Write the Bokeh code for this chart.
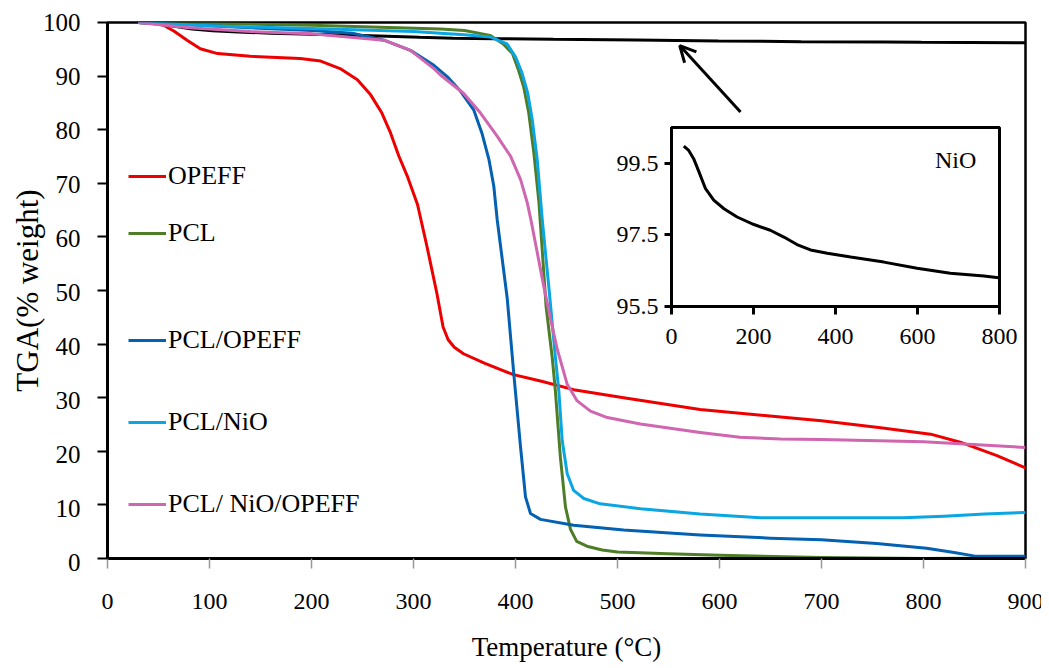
from bokeh.plotting import figure
from bokeh.models import (Range1d, Legend, LegendItem, Arrow, OpenHead, Label,
                          GridBox, FixedTicker)
from bokeh.embed import file_html
from bokeh.resources import INLINE

FONT = "Liberation Serif"

# ---------------- data ----------------
opeff_x = [30, 45, 55, 65, 78, 91, 108, 140, 189, 209, 228, 245, 258, 269, 277.5, 285.6,
           293.8, 304, 313, 323, 329, 334, 340, 349, 370, 398, 424.5, 457, 506, 581, 660,
           700, 758, 807, 836, 872, 900]
opeff_y = [100, 99.9, 99.5, 98.4, 96.7, 95.1, 94.2, 93.7, 93.3, 92.8, 91.4, 89.3, 86.5, 83.1,
           79.4, 75.1, 71.4, 66.0, 58.4, 49.4, 43.2, 40.8, 39.4, 38.2, 36.4, 34.3, 33.1,
           31.5, 30.0, 27.8, 26.4, 25.7, 24.4, 23.2, 21.7, 19.2, 16.9]

pcl_x = [30, 100, 200, 326.5, 350, 375, 388, 397, 403, 408, 413, 418, 423, 430, 436, 439,
         444, 449, 454, 460, 470, 485, 500, 550, 600, 700, 800, 900]
pcl_y = [100, 99.8, 99.5, 98.8, 98.5, 97.6, 96.0, 94.2, 91.1, 88.0, 83.1, 75.7, 66.4, 47.0,
         37.5, 31.5, 18.9, 9.6, 5.4, 3.2, 2.3, 1.6, 1.2, 0.9, 0.6, 0.2, 0.0, 0.1]

pcl_opeff_x = [30, 80, 140, 200, 240, 271, 297, 320, 333, 346, 359, 367, 374, 378.7, 382,
               391.9, 398.4, 405, 409.8, 414.7, 424.5, 457, 506, 581, 650, 700, 754, 803,
               830, 852, 900]
pcl_opeff_y = [100, 99.6, 99.0, 98.5, 98.0, 96.7, 94.8, 92.0, 89.9, 87.2, 83.7, 79.4, 74.4,
               69.5, 63.3, 48.5, 34.3, 20.7, 11.5, 8.4, 7.3, 6.2, 5.3, 4.4, 3.8, 3.5, 2.8,
               1.9, 1.1, 0.4, 0.4]

pcl_nio_x = [30, 100, 150, 200, 300, 326.5, 350, 375, 391.7, 400, 406.5, 412, 416.4, 421.3,
             426.2, 433, 439.2, 442.5, 445.8, 450.7, 457, 467, 483, 522.5, 581, 640, 700,
             780, 820, 860, 900]
pcl_nio_y = [100, 99.4, 99.1, 98.9, 98.3, 98.0, 97.7, 97.3, 96.0, 93.6, 90.5, 86.8, 81.9,
             74.4, 63.3, 50.0, 37.4, 31.2, 22.0, 15.8, 12.7, 11.2, 10.2, 9.3, 8.3, 7.6, 7.6,
             7.6, 7.9, 8.3, 8.6]

pcl_nio_opeff_x = [30, 80, 140, 200, 271, 297, 320, 326.5, 349, 365.7, 382, 395, 405, 411.5,
                   415, 427.5, 434, 441, 450.7, 460.5, 473.5, 490, 522.5, 581, 620, 660, 700,
                   800, 900]
pcl_nio_opeff_y = [100, 99.0, 98.3, 97.9, 96.7, 94.8, 91.4, 90.2, 86.8, 83.1, 78.8, 75.1,
                   70.7, 66.4, 63.3, 51.0, 45.0, 39.0, 32.5, 29.4, 27.5, 26.3, 25.1, 23.5,
                   22.6, 22.3, 22.2, 21.8, 20.7]

nio_x = [30, 42, 54, 67, 83, 103, 128, 160, 201, 241, 274, 306, 339, 380, 437, 518, 599,
         680, 762, 798, 900]
nio_y = [99.98, 99.86, 99.63, 99.26, 98.79, 98.47, 98.23, 98.0, 97.79, 97.63, 97.44, 97.23,
         97.08, 96.99, 96.88, 96.74, 96.57, 96.43, 96.35, 96.30, 96.2]

x_ticks = [0, 100, 200, 300, 400, 500, 600, 700, 800, 900]
y_ticks = [0, 10, 20, 30, 40, 50, 60, 70, 80, 90, 100]
inset_x_ticks = [0, 200, 400, 600, 800]
inset_y_ticks = [95.5, 97.5, 99.5]

series_labels = ["OPEFF", "PCL", "PCL/OPEFF", "PCL/NiO", "PCL/ NiO/OPEFF"]
colors = ["#ee0000", "#4e7d28", "#0461b1", "#0aa6e3", "#d065b0"]

# ---------------- layout constants (pixels) ----------------
W, H = 1041, 664
FL, FR, FT, FB = 107, 1025, 22, 562          # main frame
IFL, IFR, IFT, IFB = 671, 999, 127, 306      # inset frame
MX0, MX1, MY0, MY1 = 0, 900, 0, 100          # main ranges
NX0, NX1, NY0, NY1 = 0, 800, 95.5, 100.5     # inset ranges


def style_axis(ax, ticks, line_w, tick_color, tick_w, tick_out):
    ax.ticker = FixedTicker(ticks=ticks)
    ax.axis_line_color = "black"
    ax.axis_line_width = line_w
    ax.major_tick_line_color = tick_color
    ax.major_tick_line_width = tick_w
    ax.major_tick_out = tick_out
    ax.major_tick_in = 0
    ax.minor_tick_line_color = None
    # tick texts are drawn as serif Labels on the overlay (axis tick font face is ignored)
    ax.major_label_overrides = {t: "" for t in ticks}
    ax.major_label_text_font_size = "0px"
    ax.major_label_standoff = 0


# ---------------- main figure ----------------
p = figure(width=W, height=H, output_backend="svg", toolbar_location=None,
           x_range=Range1d(MX0, MX1), y_range=Range1d(MY0, MY1),
           min_border_left=FL, min_border_right=W - FR, min_border_top=FT,
           min_border_bottom=H - FB)
p.xgrid.visible = False
p.ygrid.visible = False
p.outline_line_color = "black"
p.outline_line_width = 2.5
p.outline_line_alpha = 1.0
p.background_fill_color = "white"
p.border_fill_color = "white"

style_axis(p.xaxis[0], x_ticks, 3, "#999999", 1.5, 10)
style_axis(p.yaxis[0], y_ticks, 3, "black", 2, 10)

p.xaxis.axis_label = "Temperature (°C)"
p.xaxis.axis_label_text_font = FONT
p.xaxis.axis_label_text_font_size = "27px"
p.xaxis.axis_label_text_font_style = "normal"
p.xaxis.axis_label_text_color = "black"
p.xaxis.axis_label_standoff = 63

p.yaxis.axis_label = "TGA(% weight)"
p.yaxis.axis_label_text_font = FONT
p.yaxis.axis_label_text_font_size = "31px"
p.yaxis.axis_label_text_font_style = "normal"
p.yaxis.axis_label_text_color = "black"
p.yaxis.axis_label_standoff = 53

series = [(opeff_x, opeff_y), (pcl_x, pcl_y), (pcl_opeff_x, pcl_opeff_y),
          (pcl_nio_x, pcl_nio_y), (pcl_nio_opeff_x, pcl_nio_opeff_y)]

p.line(nio_x, nio_y, line_color="black", line_width=3)
renderers = []
for (xs, ys), c in zip(series, colors):
    renderers.append(p.line(xs, ys, line_color=c, line_width=3, line_join="round"))

# legend entries at individual (irregular) positions, screen units from frame bottom-left
legend_offsets = [(21, 367), (21, 310), (21, 203), (21, 121), (21, 39)]
for lab, r, loc in zip(series_labels, renderers, legend_offsets):
    leg = Legend(items=[LegendItem(label=lab, renderers=[r])], location=loc,
                 glyph_width=38, glyph_height=30, label_height=30, label_standoff=2,
                 padding=0, margin=0, spacing=0, border_line_alpha=0,
                 background_fill_alpha=0, label_text_font=FONT,
                 label_text_font_size="26px", label_text_color="black")
    p.add_layout(leg)

p.add_layout(Arrow(end=OpenHead(size=16, line_width=3, line_color="black"),
                   x_start=620.6, y_start=83.3, x_end=561, y_end=95.7,
                   line_width=3, line_color="black"))

# ---------------- inset figure ----------------
IL, IR, IT, IB = 70, 20, 5, 58
IW, IH = IL + (IFR - IFL) + IR, IT + (IFB - IFT) + IB
ins = figure(width=IW, height=IH, output_backend="svg", toolbar_location=None,
             x_range=Range1d(NX0, NX1), y_range=Range1d(NY0, NY1),
             min_border_left=IL, min_border_right=IR, min_border_top=IT,
             min_border_bottom=IB)
ins.xgrid.visible = False
ins.ygrid.visible = False
ins.background_fill_alpha = 0
ins.border_fill_color = None
ins.outline_line_color = "black"
ins.outline_line_width = 3
ins.outline_line_alpha = 1.0
style_axis(ins.xaxis[0], inset_x_ticks, 3, "black", 3, 8)
style_axis(ins.yaxis[0], inset_y_ticks, 3, "black", 3, 7)

ins.line(nio_x, nio_y, line_color="black", line_width=3)
ins.add_layout(Label(x=693, y=99.58, text="NiO", text_align="center",
                     text_baseline="middle", text_font=FONT, text_font_size="24px",
                     text_color="black"))

# ---------------- transparent overlay carrying the serif tick labels ----------------
# its frame covers the whole canvas; its ranges reproduce the main / inset scales
def span(v0, v1, p0, p1, q0, q1):
    k = (v1 - v0) / (p1 - p0)
    return v0 + (q0 - p0) * k, v0 + (q1 - p0) * k

ox = span(MX0, MX1, FL, FR, 0, W)
oy = span(MY0, MY1, FB, FT, H, 0)
ix = span(NX0, NX1, IFL, IFR, 0, W)
iy = span(NY0, NY1, IFB, IFT, H, 0)

ov = figure(width=W, height=H, output_backend="svg", toolbar_location=None,
            x_range=Range1d(*ox), y_range=Range1d(*oy),
            x_axis_location=None, y_axis_location=None, min_border=0)
ov.extra_x_ranges = {"inset": Range1d(*ix)}
ov.extra_y_ranges = {"inset": Range1d(*iy)}
ov.xgrid.visible = False
ov.ygrid.visible = False
ov.outline_line_color = None
ov.background_fill_alpha = 0
ov.border_fill_alpha = 0
ov.min_border_left = ov.min_border_right = ov.min_border_top = ov.min_border_bottom = 0

for t in x_ticks:
    ov.add_layout(Label(x=t, y=MY0, text=str(t), y_offset=-31, text_align="center",
                        text_baseline="top", text_font=FONT, text_font_size="24px",
                        text_color="black"))
for t in y_ticks:
    ov.add_layout(Label(x=MX0, y=t, text=str(t), x_offset=-27, text_align="right",
                        text_baseline="middle", text_font=FONT, text_font_size="25px",
                        text_color="black"))
for t in inset_x_ticks:
    ov.add_layout(Label(x=t, y=NY0, text=str(t), y_offset=-22, text_align="center",
                        text_baseline="top", text_font=FONT, text_font_size="24px",
                        text_color="black", x_range_name="inset", y_range_name="inset"))
for t in inset_y_ticks:
    ov.add_layout(Label(x=NX0, y=t, text=f"{t:.1f}", x_offset=-13, text_align="right",
                        text_baseline="middle", text_font=FONT, text_font_size="24px",
                        text_color="black", x_range_name="inset", y_range_name="inset"))

# ---------------- overlay layout ----------------
# zero-size outer tracks keep the overlay's frame from being aligned with the main frame
col0 = IFL - IL
row0 = IFT - IT
grid = GridBox(children=[(p, 1, 1, 3, 3), (ins, 2, 2), (ov, 0, 0, 5, 5)],
               rows=["0px", f"{row0}px", f"{IH}px", f"{H - row0 - IH}px", "0px"],
               cols=["0px", f"{col0}px", f"{IW}px", f"{W - col0 - IW}px", "0px"],
               spacing=0)

open("out.html", "w").write(file_html(grid, INLINE))
